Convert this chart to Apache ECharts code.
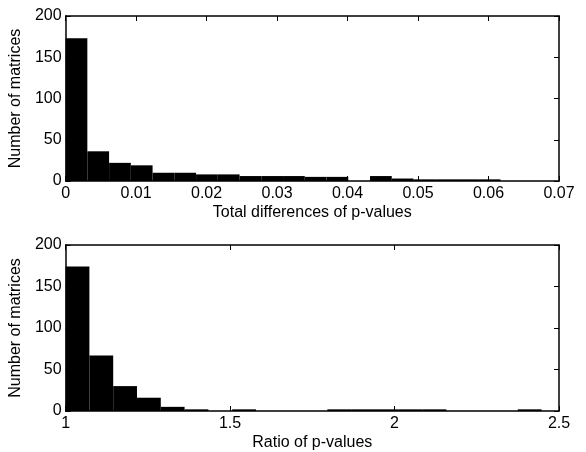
<!DOCTYPE html>
<html>
<head>
<meta charset="utf-8">
<script src="https://cdn.jsdelivr.net/npm/echarts@6/dist/echarts.min.js"></script>
<style>
html,body{margin:0;padding:0;background:#fff;}
#chart{width:586px;height:452px;}
</style>
</head>
<body>
<div id="chart"></div>
<script>
// Top histogram: total differences of p-values (20 equal bins)
const diffRange = [0, 0.0617];
const diffCounts = [173, 36, 22, 19, 10, 10, 8, 8, 6, 6, 6, 5, 5, 0, 6, 3, 2, 2, 2, 2];
const diffTicks = [0, 0.01, 0.02, 0.03, 0.04, 0.05, 0.06, 0.07];

// Bottom histogram: ratio of p-values (20 equal bins)
const ratioRange = [1, 2.447];
const ratioCounts = [174, 67, 30, 16, 5, 2, 0, 2, 0, 0, 0, 2, 2, 2, 2, 2, 0, 0, 0, 2];
const ratioTicks = [1, 1.5, 2, 2.5];

const yTicks = [0, 50, 100, 150, 200];

const yLabel = 'Number of matrices';
const xLabelTop = 'Total differences of p-values';
const xLabelBottom = 'Ratio of p-values';

function bins(range, counts) {
  const w = (range[1] - range[0]) / counts.length;
  return counts.map((c, i) => [range[0] + i * w, range[0] + (i + 1) * w, c]);
}

const FONT = 'Liberation Sans, Arial, Helvetica, sans-serif';
const lineStyle = {color: '#000', width: 1.5};
const labelStyle = {color: '#000', fontSize: 16, fontFamily: FONT};

function xAx(grid, ticks, name, isTop, fmt) {
  return {
    type: 'value', gridIndex: grid,
    min: ticks[0], max: ticks[ticks.length - 1], interval: ticks[1] - ticks[0],
    position: isTop ? 'top' : 'bottom',
    axisLine: {show: true, onZero: false, lineStyle: lineStyle},
    axisTick: {show: true, inside: true, length: 5, lineStyle: {color: '#000', width: 1}},
    axisLabel: isTop ? {show: false} : Object.assign({margin: 5, formatter: fmt}, labelStyle),
    splitLine: {show: false},
    name: isTop ? '' : name, nameLocation: 'middle', nameGap: 24,
    nameTextStyle: labelStyle
  };
}
function yAx(grid, isRight) {
  return {
    type: 'value', gridIndex: grid,
    min: yTicks[0], max: yTicks[yTicks.length - 1], interval: yTicks[1] - yTicks[0],
    position: isRight ? 'right' : 'left',
    axisLine: {show: true, onZero: false, lineStyle: lineStyle},
    axisTick: {show: true, inside: true, length: 5, lineStyle: {color: '#000', width: 1}},
    axisLabel: isRight ? {show: false} : Object.assign({margin: 4}, labelStyle),
    splitLine: {show: false},
    name: isRight ? '' : yLabel, nameLocation: 'middle', nameGap: 35, nameRotate: 90,
    nameTextStyle: labelStyle
  };
}

function renderBar(params, api) {
  const p0 = api.coord([api.value(0), api.value(2)]);
  const p1 = api.coord([api.value(1), 0]);
  return {
    type: 'rect',
    shape: {x: p0[0], y: p0[1], width: p1[0] - p0[0], height: p1[1] - p0[1]},
    style: {fill: '#000'}
  };
}

const fmtDiff = v => String(+v.toFixed(2));
const fmtRatio = v => String(+v.toFixed(1));

const chart = echarts.init(document.getElementById('chart'), null, {renderer: 'canvas'});
chart.setOption({
  animation: false,
  backgroundColor: '#fff',
  grid: [
    {left: 64, right: 27, top: 16, height: 165},
    {left: 64, right: 27, top: 245, height: 166}
  ],
  xAxis: [
    xAx(0, diffTicks, xLabelTop, false, fmtDiff),
    xAx(0, diffTicks, xLabelTop, true, fmtDiff),
    xAx(1, ratioTicks, xLabelBottom, false, fmtRatio),
    xAx(1, ratioTicks, xLabelBottom, true, fmtRatio)
  ],
  yAxis: [yAx(0, false), yAx(0, true), yAx(1, false), yAx(1, true)],
  series: [
    {type: 'custom', xAxisIndex: 0, yAxisIndex: 0, renderItem: renderBar,
     encode: {x: [0, 1], y: 2}, data: bins(diffRange, diffCounts), z: 1},
    {type: 'custom', xAxisIndex: 2, yAxisIndex: 2, renderItem: renderBar,
     encode: {x: [0, 1], y: 2}, data: bins(ratioRange, ratioCounts), z: 1}
  ]
});
</script>
</body>
</html>
